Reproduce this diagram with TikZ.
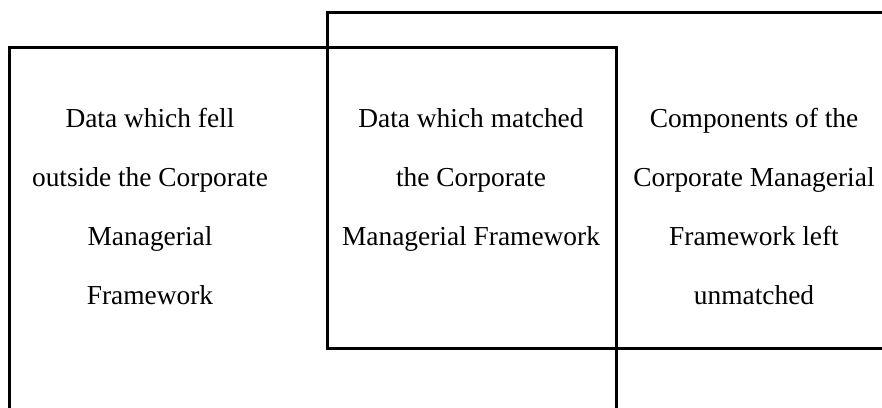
\documentclass[tikz,border=0pt]{standalone}
\usepackage{fontspec}
\setmainfont{Liberation Serif}
\usepackage{tikz}

\begin{document}
\begin{tikzpicture}[x=0.5pt,y=-0.5pt,
		frame/.style={line width=1.5pt},
		blocktext/.style={align=center, anchor=base, inner sep=0pt,
			font=\fontsize{13.7pt}{29.5pt}\selectfont}]
			\useasboundingbox (0,0) rectangle (882,407);
			\clip (0,0) rectangle (882,407);
			% data rectangle (runs off the bottom)
			\draw[frame] (9,47) rectangle (616,430);
			% framework rectangle (runs off the right)
			\draw[frame] (327,12) rectangle (900,348);

			% texts (base = last line)
			\node[blocktext] (outside) at (150,304) {Data which fell\\outside the Corporate\\Managerial\\Framework};
			\node[blocktext] (matched) at (471,245) {Data which matched\\the Corporate\\Managerial Framework};
			\node[blocktext] (unmatched) at (754,304) {Components of the\\Corporate Managerial\\Framework left\\unmatched};
		\end{tikzpicture}
\end{document}
